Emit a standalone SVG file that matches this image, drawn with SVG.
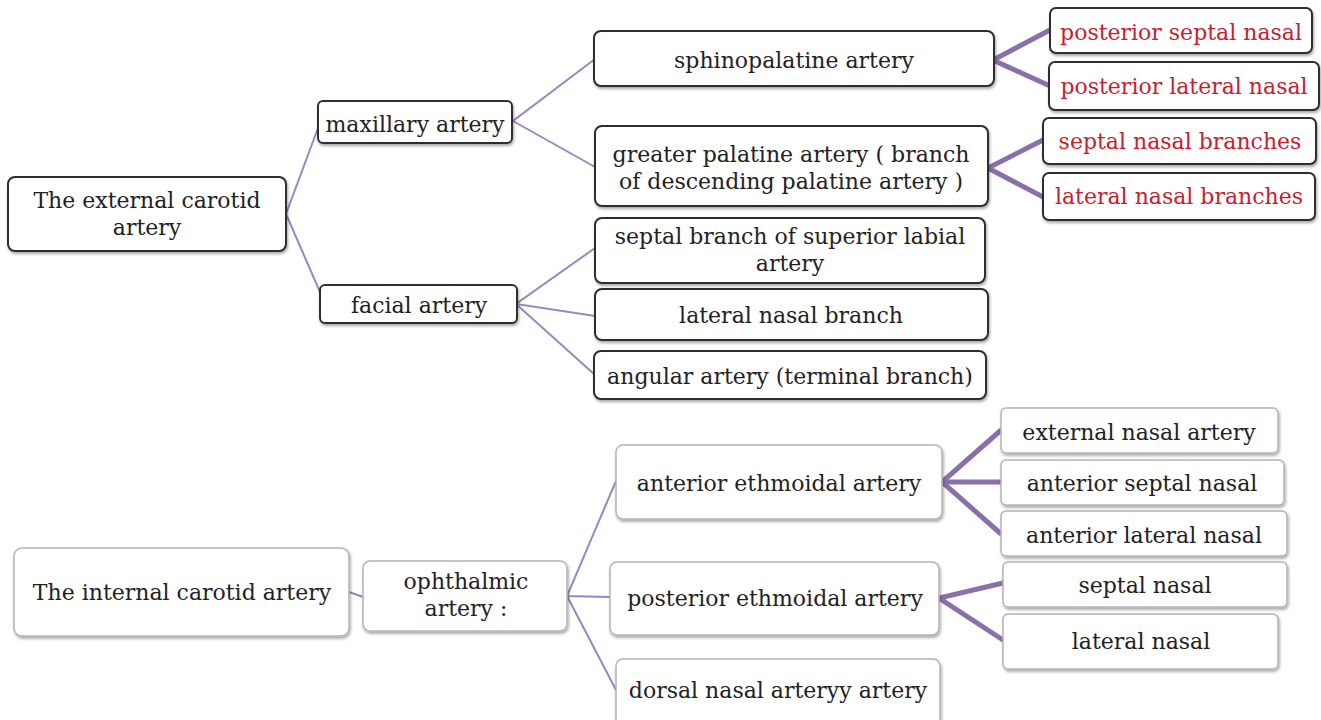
<svg xmlns="http://www.w3.org/2000/svg" width="1321" height="720" viewBox="0 0 1321 720">
  <defs>
    <filter id="shadow" x="-10%" y="-20%" width="120%" height="150%">
      <feDropShadow dx="1" dy="2" stdDeviation="1.5" flood-color="#000" flood-opacity="0.35"/>
    </filter>
    <style>
      .box-dark { fill: #ffffff; stroke: #2f2f2f; stroke-width: 2; filter: url(#shadow); }
      .box-light { fill: #ffffff; stroke: #b4b4b4; stroke-width: 1.5; filter: url(#shadow); }
      text { font-family: "DejaVu Serif", "Liberation Serif", serif; font-size: 22px; fill: #222222; text-anchor: middle; }
      text.red { fill: #c8202e; }
      .thin { fill: none; stroke: #9b86c2; stroke-width: 2; stroke-linecap: round; }
      .thick { fill: none; stroke: #8a70ab; stroke-width: 5; stroke-linecap: round; }
    </style>
  </defs>
  <rect width="1321" height="720" fill="#ffffff"/>

  <!-- connectors -->
  <g id="connectors">
    <!-- external carotid tree -->
    <polyline class="thin" points="318,128 286,214 320,292"/>
    <polyline class="thin" points="595,59 513,121 595,167"/>
    <polyline class="thin" points="595,248 516,304 595,316"/>
    <polyline class="thin" points="516,304 594,374"/>
    <polyline class="thick" points="1050,30 993,60 1050,86"/>
    <polyline class="thick" points="1043,140 988,168 1043,197"/>
    <!-- internal carotid tree -->
    <line class="thin" x1="349" y1="592" x2="363" y2="597"/>
    <polyline class="thin" points="616,481 567,596 610,597"/>
    <line class="thin" x1="567" y1="596" x2="616" y2="690"/>
    <polyline class="thick" points="1000,431 942,482 1000,533"/>
    <line class="thick" x1="942" y1="482" x2="1000" y2="482"/>
    <polyline class="thick" points="1003,583 939,598 1003,640"/>
  </g>

  <!-- external carotid branch -->
  <g id="external-carotid">
    <rect class="box-dark" x="8" y="177" width="278" height="74" rx="7"/>
    <text x="147" y="208">The external carotid</text>
    <text x="147" y="235">artery</text>
  </g>
  <g id="maxillary">
    <rect class="box-dark" x="318" y="101" width="194" height="42" rx="5"/>
    <text x="415" y="132">maxillary artery</text>
  </g>
  <g id="facial">
    <rect class="box-dark" x="320" y="285" width="197" height="38" rx="5"/>
    <text x="419" y="313">facial artery</text>
  </g>
  <g id="sphinopalatine">
    <rect class="box-dark" x="594" y="31" width="400" height="55" rx="7"/>
    <text x="794" y="68">sphinopalatine artery</text>
  </g>
  <g id="greater-palatine">
    <rect class="box-dark" x="595" y="126" width="393" height="80" rx="7"/>
    <text x="791" y="162">greater palatine artery ( branch</text>
    <text x="791" y="189">of descending palatine artery )</text>
  </g>
  <g id="superior-labial">
    <rect class="box-dark" x="595" y="218" width="390" height="65" rx="7"/>
    <text x="790" y="244">septal branch of superior labial</text>
    <text x="790" y="271">artery</text>
  </g>
  <g id="lateral-nasal-branch">
    <rect class="box-dark" x="595" y="289" width="393" height="51" rx="7"/>
    <text x="791" y="323">lateral nasal branch</text>
  </g>
  <g id="angular">
    <rect class="box-dark" x="594" y="351" width="392" height="48" rx="7"/>
    <text x="790" y="384">angular artery (terminal branch)</text>
  </g>
  <g id="posterior-septal">
    <rect class="box-dark" x="1050" y="8" width="262" height="45" rx="6"/>
    <text class="red" x="1181" y="40">posterior septal nasal</text>
  </g>
  <g id="posterior-lateral">
    <rect class="box-dark" x="1049" y="62" width="270" height="48" rx="6"/>
    <text class="red" x="1184" y="94">posterior lateral nasal</text>
  </g>
  <g id="septal-branches">
    <rect class="box-dark" x="1043" y="118" width="273" height="46" rx="6"/>
    <text class="red" x="1180" y="149">septal nasal branches</text>
  </g>
  <g id="lateral-branches">
    <rect class="box-dark" x="1043" y="173" width="272" height="47" rx="6"/>
    <text class="red" x="1179" y="204">lateral nasal branches</text>
  </g>

  <!-- internal carotid branch -->
  <g id="internal-carotid">
    <rect class="box-light" x="14" y="548" width="335" height="88" rx="8"/>
    <text x="182" y="600">The internal carotid artery</text>
  </g>
  <g id="ophthalmic">
    <rect class="box-light" x="363" y="561" width="204" height="70" rx="7"/>
    <text x="466" y="589">ophthalmic</text>
    <text x="466" y="616">artery :</text>
  </g>
  <g id="anterior-ethmoidal">
    <rect class="box-light" x="616" y="445" width="326" height="74" rx="7"/>
    <text x="779" y="491">anterior ethmoidal artery</text>
  </g>
  <g id="posterior-ethmoidal">
    <rect class="box-light" x="610" y="562" width="329" height="73" rx="7"/>
    <text x="775" y="606">posterior ethmoidal artery</text>
  </g>
  <g id="dorsal-nasal">
    <rect class="box-light" x="616" y="659" width="324" height="70" rx="7"/>
    <text x="778" y="698">dorsal nasal arteryy artery</text>
  </g>
  <g id="external-nasal">
    <rect class="box-light" x="1001" y="408" width="277" height="45" rx="5"/>
    <text x="1139" y="440">external nasal artery</text>
  </g>
  <g id="anterior-septal">
    <rect class="box-light" x="1001" y="460" width="283" height="45" rx="5"/>
    <text x="1142" y="491">anterior septal nasal</text>
  </g>
  <g id="anterior-lateral">
    <rect class="box-light" x="1001" y="511" width="286" height="45" rx="5"/>
    <text x="1144" y="543">anterior lateral nasal</text>
  </g>
  <g id="septal-nasal">
    <rect class="box-light" x="1003" y="562" width="284" height="45" rx="5"/>
    <text x="1145" y="593">septal nasal</text>
  </g>
  <g id="lateral-nasal">
    <rect class="box-light" x="1003" y="614" width="275" height="55" rx="5"/>
    <text x="1141" y="649">lateral nasal</text>
  </g>
</svg>
